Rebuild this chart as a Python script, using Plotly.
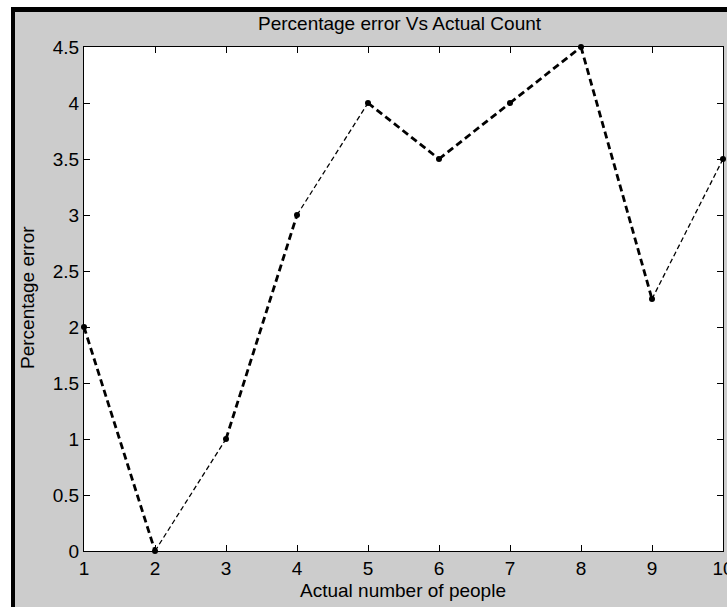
import plotly.graph_objects as go

# Data
actual_count = [1, 2, 3, 4, 5, 6, 7, 8, 9, 10]
percentage_error = [2, 0, 1, 3, 4, 3.5, 4, 4.5, 2.25, 3.5]
x_ticks = [1, 2, 3, 4, 5, 6, 7, 8, 9, 10]
y_ticks = [0, 0.5, 1, 1.5, 2, 2.5, 3, 3.5, 4, 4.5]

# Style per segment (thick = overlapping strokes in the original)
segment_width = [2.8, 1.3, 2.8, 1.3, 2.8, 2.8, 2.8, 2.8, 1.3]

W, H = 727, 607
L, R, T, B = 84, 4, 47, 56
pw, ph = W - L - R, H - T - B

def px(x):
    return (x - L) / pw

def py(y):
    return 1 - (y - T) / ph

fig = go.Figure()
for i in range(len(actual_count) - 1):
    w = segment_width[i]
    dash = "7px,4px" if w > 2 else "5px,3px"
    fig.add_trace(go.Scatter(
        x=actual_count[i:i + 2], y=percentage_error[i:i + 2],
        mode="lines", line=dict(color="black", width=w, dash=dash),
        showlegend=False, hoverinfo="skip", cliponaxis=False))
fig.add_trace(go.Scatter(
    x=actual_count, y=percentage_error, mode="markers",
    marker=dict(color="black", size=6), showlegend=False, cliponaxis=False))

font = dict(family="Liberation Sans, Arial, sans-serif", size=19, color="black")
axis_common = dict(showgrid=False, zeroline=False, showline=True, linecolor="black",
                   linewidth=1, mirror="ticks", ticks="inside", ticklen=6,
                   tickcolor="black", tickfont=font, ticklabeloverflow="allow",
                   automargin=False)

fig.update_layout(
    width=W, height=H,
    margin=dict(l=L, r=R, t=T, b=B, pad=0, autoexpand=False),
    paper_bgcolor="#cccccc", plot_bgcolor="white",
    xaxis=dict(range=[1, 10], tickvals=x_ticks, ticktext=[str(v) for v in x_ticks], **axis_common),
    yaxis=dict(range=[0, 4.5], tickvals=y_ticks, ticktext=[f"{v:g}" for v in y_ticks], **axis_common),
    annotations=[
        dict(text="Percentage error Vs Actual Count", x=px(400), y=py(24), xref="paper", yref="paper",
             showarrow=False, font=font, xanchor="center", yanchor="middle"),
        dict(text="Actual number of people", x=px(403), y=py(590), xref="paper", yref="paper",
             showarrow=False, font=font, xanchor="center", yanchor="middle"),
        dict(text="Percentage error", x=px(27), y=py(298), xref="paper", yref="paper",
             showarrow=False, font=font, textangle=-90, xanchor="center", yanchor="middle"),
    ],
    shapes=[
        dict(type="rect", xref="paper", yref="paper", x0=px(0), x1=px(W), y0=py(0), y1=py(7),
             fillcolor="white", line_width=0, layer="above"),
        dict(type="rect", xref="paper", yref="paper", x0=px(0), x1=px(11), y0=py(0), y1=py(H),
             fillcolor="white", line_width=0, layer="above"),
        dict(type="rect", xref="paper", yref="paper", x0=px(11), x1=px(W), y0=py(7), y1=py(12),
             fillcolor="black", line_width=0, layer="above"),
        dict(type="rect", xref="paper", yref="paper", x0=px(11), x1=px(15), y0=py(7), y1=py(H),
             fillcolor="black", line_width=0, layer="above"),
    ],
)

fig.write_html("out.html")
